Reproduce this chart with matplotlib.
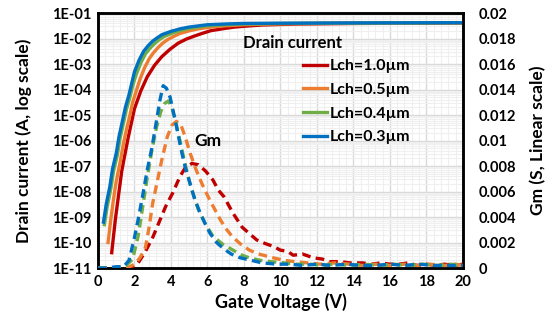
import numpy as np
import matplotlib.pyplot as plt
from matplotlib.ticker import MultipleLocator, LogLocator, FixedLocator, NullFormatter

plt.rcParams['font.family'] = ['Lato', 'DejaVu Sans']
plt.rcParams['font.weight'] = 'bold'

# drain current, log10(A) vs gate voltage
vg_10 = [0.75, 0.95, 1.3, 1.65, 2.0, 2.35, 2.7, 3.1, 3.5, 3.95, 4.4, 4.85, 5.3, 5.75, 6.2, 7.0, 7.5, 8.2, 9.0, 10.0, 11.0, 12.5, 14.0, 17.0, 20.0]
id_10 = [-10.4, -9.1, -7.2, -5.9, -4.75, -4.05, -3.5, -3.05, -2.71, -2.42, -2.18, -2.02, -1.9, -1.79, -1.69, -1.6, -1.55, -1.51, -1.47, -1.45, -1.43, -1.42, -1.41, -1.4, -1.39]

vg_05 = [0.55, 0.7, 0.85, 1.0, 1.2, 1.4, 1.55, 1.75, 1.9, 2.1, 2.3, 2.55, 2.8, 3.05, 3.3, 3.55, 3.8, 4.2, 4.5, 5.0, 5.5, 6.2, 7.0, 8.0, 9.0, 10.5, 12.0, 15.0, 20.0]
id_05 = [-10.0, -9.1, -8.3, -7.6, -6.9, -6.1, -5.6, -5.0, -4.5, -4.05, -3.6, -3.15, -2.8, -2.55, -2.35, -2.18, -2.05, -1.9, -1.8, -1.7, -1.62, -1.55, -1.5, -1.46, -1.44, -1.42, -1.41, -1.4, -1.39]

vg_04 = [0.35, 0.5, 0.7, 0.85, 1.05, 1.2, 1.4, 1.55, 1.75, 1.9, 2.1, 2.35, 2.6, 2.85, 3.1, 3.35, 3.6, 4.1, 4.5, 5.0, 6.0, 7.0, 8.0, 10.0, 13.0, 20.0]
id_04 = [-9.3, -8.6, -7.9, -7.2, -6.6, -5.95, -5.3, -4.8, -4.3, -3.85, -3.4, -2.95, -2.6, -2.38, -2.2, -2.05, -1.93, -1.78, -1.69, -1.6, -1.5, -1.46, -1.43, -1.41, -1.4, -1.38]

vg_03 = [0.3, 0.45, 0.65, 0.8, 1.0, 1.15, 1.35, 1.5, 1.7, 1.85, 2.0, 2.25, 2.5, 2.75, 3.0, 3.25, 3.5, 4.0, 4.5, 5.0, 6.0, 7.0, 8.0, 10.0, 13.0, 20.0]
id_03 = [-9.2, -8.5, -7.8, -7.1, -6.5, -5.85, -5.2, -4.7, -4.2, -3.75, -3.3, -2.85, -2.5, -2.28, -2.1, -1.97, -1.85, -1.72, -1.62, -1.55, -1.46, -1.43, -1.41, -1.4, -1.39, -1.38]

# transconductance (S) vs gate voltage
gv_10 = [0.0, 1.0, 1.8, 2.2, 2.6, 3.0, 3.35, 3.7, 4.1, 4.5, 4.8, 5.15, 5.5, 5.9, 6.3, 6.6, 6.9, 7.4, 7.9, 8.3, 8.7, 9.2, 9.6, 10.0, 10.4, 10.7, 11.2, 11.8, 12.3, 12.7, 13.3, 13.8, 14.5, 15.0, 15.5, 16.0, 16.5, 17.0, 17.5, 18.0, 18.5, 19.0, 19.5, 20.0]
gm_10 = [0.0, 0.0, 0.0, 0.0004, 0.0013, 0.0024, 0.0036, 0.0048, 0.0059, 0.0072, 0.0079, 0.0082, 0.0081, 0.0076, 0.0069, 0.0061, 0.0056, 0.0043, 0.0032, 0.0027, 0.0022, 0.0019, 0.0017, 0.0014, 0.0013, 0.0010, 0.0011, 0.0008, 0.0007, 0.0005, 0.0005, 0.0004, 0.0004, 0.0003, 0.0004, 0.0003, 0.0003, 0.0004, 0.0002, 0.0003, 0.0002, 0.0003, 0.0002, 0.0003]

gv_05 = [0.0, 1.0, 1.6, 2.0, 2.3, 2.6, 2.8, 3.0, 3.25, 3.5, 3.8, 4.05, 4.3, 4.55, 4.8, 5.05, 5.35, 5.7, 6.1, 6.7, 7.0, 7.4, 7.8, 8.3, 8.8, 9.6, 10.2, 10.8, 11.5, 12.2, 13.0, 13.8, 14.5, 15.2, 16.0, 16.8, 17.5, 18.2, 19.0, 19.6, 20.0]
gm_05 = [0.0, 0.0, 0.0, 0.0003, 0.0008, 0.0016, 0.0032, 0.0051, 0.0068, 0.0085, 0.0103, 0.0112, 0.0115, 0.0112, 0.0102, 0.0090, 0.0078, 0.0066, 0.0054, 0.0038, 0.0031, 0.0024, 0.0019, 0.0014, 0.0011, 0.0008, 0.0006, 0.0005, 0.0004, 0.0003, 0.0004, 0.0003, 0.0002, 0.0003, 0.0002, 0.0003, 0.0002, 0.0003, 0.0002, 0.0003, 0.0002]

gv_04 = [0.0, 1.0, 1.55, 1.9, 2.2, 2.45, 2.7, 2.95, 3.2, 3.45, 3.65, 3.85, 4.05, 4.3, 4.55, 4.8, 5.1, 5.5, 5.9, 6.3, 6.8, 7.4, 7.9, 8.3, 8.9, 9.5, 10.2, 10.9, 11.6, 12.3, 13.0, 13.8, 14.6, 15.4, 16.2, 17.0, 17.8, 18.6, 19.3, 20.0]
gm_04 = [0.0, 0.0, 0.0002, 0.0007, 0.0025, 0.0048, 0.0071, 0.0092, 0.0110, 0.0123, 0.0129, 0.0131, 0.0126, 0.0112, 0.0096, 0.0080, 0.0063, 0.0046, 0.0034, 0.0025, 0.0019, 0.0014, 0.0010, 0.0008, 0.0006, 0.0005, 0.0004, 0.0003, 0.0003, 0.0002, 0.0003, 0.0002, 0.0003, 0.0002, 0.0003, 0.0002, 0.0003, 0.0002, 0.0003, 0.0002]

gv_03 = [0.0, 0.5, 1.0, 1.4, 1.7, 2.0, 2.2, 2.45, 2.7, 2.95, 3.2, 3.4, 3.57, 3.75, 3.95, 4.2, 4.4, 4.6, 4.8, 5.05, 5.3, 5.6, 5.9, 6.15, 6.5, 6.9, 7.3, 7.8, 8.4, 9.0, 9.8, 10.5, 11.2, 12.0, 12.8, 13.6, 14.4, 15.2, 16.0, 16.8, 17.6, 18.4, 19.2, 20.0]
gm_03 = [0.0, 0.0, 0.0001, 0.0001, 0.0006, 0.0024, 0.0038, 0.0057, 0.0077, 0.0094, 0.0115, 0.0132, 0.0143, 0.0141, 0.0134, 0.0118, 0.0104, 0.0090, 0.0078, 0.0066, 0.0054, 0.0043, 0.0034, 0.0027, 0.0020, 0.0015, 0.0011, 0.0008, 0.0006, 0.0004, 0.0003, 0.0003, 0.0002, 0.0003, 0.0002, 0.0003, 0.0002, 0.0002, 0.0003, 0.0002, 0.0003, 0.0002, 0.0002, 0.0002]

labels = ['Lch=1.0\u00b5m', 'Lch=0.5\u00b5m', 'Lch=0.4\u00b5m', 'Lch=0.3\u00b5m']
colors = ['#c00000', '#ed7d31', '#70ad47', '#0070c0']

fig = plt.figure(figsize=(5.55, 3.22), dpi=100)
ax = fig.add_axes([0.1766, 0.1677, 0.6574, 0.7919])
ax2 = ax.twinx()

ax.set_yscale('log')
ax.set_xlim(0, 20)
ax.set_ylim(1e-11, 1e-1)
ax2.set_ylim(0, 0.02)

ax.xaxis.set_major_locator(MultipleLocator(2))
ax.xaxis.set_minor_locator(MultipleLocator(0.4))
ax.yaxis.set_major_locator(LogLocator(base=10, numticks=20))
ax.yaxis.set_minor_locator(LogLocator(base=10, subs=np.arange(2, 10), numticks=20))
ax.yaxis.set_minor_formatter(NullFormatter())
ax.set_yticks([10.0 ** k for k in range(-11, 0)])
ax.set_yticklabels(['1E-%02d' % -k for k in range(-11, 0)])
ax2.yaxis.set_major_locator(FixedLocator(np.arange(0, 0.0201, 0.002)))
ax2.set_yticklabels(['0'] + ['%g' % v for v in np.arange(0.002, 0.0201, 0.002)])

ax.grid(which='major', color='#d9d9d9', lw=1.0)
ax.grid(which='minor', color='#efefef', lw=0.8)
ax.set_axisbelow(True)

ax.tick_params(which='both', length=0, labelsize=10.5, pad=5)
ax2.tick_params(which='both', length=0, labelsize=10.5, pad=11)
for a in (ax, ax2):
    for s in a.spines.values():
        s.set_linewidth(1.8)
        s.set_color('black')

id_sets = [(vg_10, id_10), (vg_05, id_05), (vg_04, id_04), (vg_03, id_03)]
gm_sets = [(gv_10, gm_10), (gv_05, gm_05), (gv_04, gm_04), (gv_03, gm_03)]

handles = []
for (vx, vy), (gx, gy), c, lab in zip(id_sets, gm_sets, colors, labels):
    h, = ax.plot(vx, 10.0 ** np.array(vy), color=c, lw=2.4, label=lab, zorder=3)
    handles.append(h)
    ax2.plot(gx, gy, color=c, lw=2.4, ls=(0, (2.6, 1.6)), zorder=3)

ax.set_xlabel('Gate Voltage (V)', fontsize=13, fontweight='bold', labelpad=3)
ax.set_ylabel('Drain current (A, log scale)', fontsize=12.5, fontweight='bold', labelpad=14)
ax2.set_ylabel('Gm (S, Linear scale)', fontsize=12.5, fontweight='bold', labelpad=10)

leg = ax2.legend(handles, labels, loc='upper left', bbox_to_anchor=(0.545, 0.845), frameon=False,
                 fontsize=11.5, handlelength=1.5, handletextpad=0.15, labelspacing=0.6,
                 borderaxespad=0)
ax2.text(0.397, 0.883, 'Drain current', transform=ax2.transAxes, fontsize=12, fontweight='bold',
         va='center', ha='left')
ax2.text(0.265, 0.5, 'Gm', transform=ax2.transAxes, fontsize=12.5, fontweight='bold',
         va='center', ha='left')

fig.savefig('out.png', dpi=100)
